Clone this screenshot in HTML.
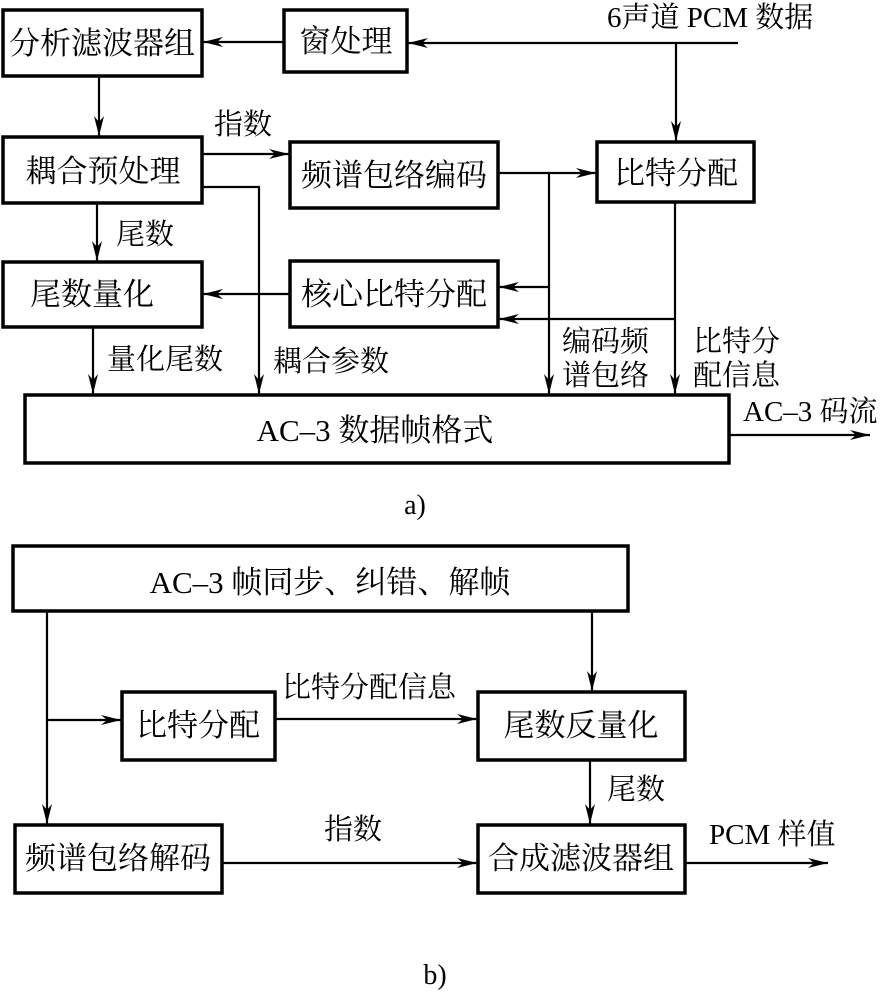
<!DOCTYPE html>
<html><head><meta charset="utf-8"><style>
html,body{margin:0;padding:0;background:#fff;}
svg{display:block;}
text{font-family:"Liberation Serif","Noto Serif CJK SC","Noto Sans CJK SC",serif;fill:#000;}
</style></head><body>
<svg width="887" height="996" viewBox="0 0 887 996" xmlns="http://www.w3.org/2000/svg">
<defs>
<marker id="a" viewBox="0 0 20 10" refX="20" refY="5" markerWidth="20" markerHeight="10" markerUnits="userSpaceOnUse" orient="auto">
<path d="M0,0 L20,5 L0,10 L6,5 Z" fill="#000"/>
</marker>
</defs>
<g fill="none" stroke="#000" stroke-width="3.5">
<rect x="3" y="10" width="199" height="66"/>
<rect x="284" y="10" width="123" height="62"/>
<rect x="597" y="142" width="157" height="60"/>
<rect x="3" y="137" width="199" height="66"/>
<rect x="290" y="142" width="208" height="66"/>
<rect x="3" y="262" width="199" height="65"/>
<rect x="290" y="261" width="208" height="66"/>
<rect x="25" y="395" width="704" height="68"/>
<rect x="13" y="546" width="615" height="65"/>
<rect x="122" y="692" width="153" height="68"/>
<rect x="478" y="692" width="207" height="68"/>
<rect x="15" y="825" width="207" height="68"/>
<rect x="478" y="825" width="207" height="68"/>
</g>
<g fill="none" stroke="#000" stroke-width="2.2">
<line x1="738" y1="43" x2="408" y2="43" marker-end="url(#a)"/>
<line x1="284" y1="42" x2="203" y2="42" marker-end="url(#a)"/>
<line x1="676" y1="43" x2="676" y2="141" marker-end="url(#a)"/>
<line x1="99" y1="76" x2="99" y2="136" marker-end="url(#a)"/>
<line x1="202" y1="154" x2="289" y2="154" marker-end="url(#a)"/>
<polyline points="202,187 259,187 259,394" marker-end="url(#a)"/>
<line x1="498" y1="173" x2="596" y2="173" marker-end="url(#a)"/>
<line x1="549" y1="173" x2="549" y2="394" marker-end="url(#a)"/>
<line x1="549" y1="287" x2="499" y2="287" marker-end="url(#a)"/>
<line x1="675" y1="202" x2="675" y2="394" marker-end="url(#a)"/>
<line x1="675" y1="319" x2="499" y2="319" marker-end="url(#a)"/>
<line x1="97" y1="203" x2="97" y2="261" marker-end="url(#a)"/>
<line x1="290" y1="294" x2="203" y2="294" marker-end="url(#a)"/>
<line x1="93" y1="327" x2="93" y2="394" marker-end="url(#a)"/>
<line x1="729" y1="435" x2="870" y2="435" marker-end="url(#a)"/>
<line x1="47" y1="611" x2="47" y2="824" marker-end="url(#a)"/>
<line x1="47" y1="720" x2="121" y2="720" marker-end="url(#a)"/>
<line x1="275" y1="719" x2="477" y2="719" marker-end="url(#a)"/>
<line x1="592" y1="611" x2="592" y2="691" marker-end="url(#a)"/>
<line x1="590" y1="760" x2="590" y2="824" marker-end="url(#a)"/>
<line x1="222" y1="863" x2="477" y2="863" marker-end="url(#a)"/>
<line x1="685" y1="863" x2="828" y2="863" marker-end="url(#a)"/>
</g>
<g font-size="31">
<text x="102" y="54" text-anchor="middle">分析滤波器组</text>
<text x="346" y="52" text-anchor="middle">窗处理</text>
<text x="607" y="27" font-size="29">6声道 PCM 数据</text>
<text x="103" y="182" text-anchor="middle">耦合预处理</text>
<text x="214" y="134" font-size="29">指数</text>
<text x="394" y="186" text-anchor="middle">频谱包络编码</text>
<text x="676" y="184" text-anchor="middle">比特分配</text>
<text x="116" y="244" font-size="29">尾数</text>
<text x="92" y="305" text-anchor="middle">尾数量化</text>
<text x="394" y="305" text-anchor="middle">核心比特分配</text>
<text x="107" y="369" font-size="29">量化尾数</text>
<text x="273" y="371" font-size="29">耦合参数</text>
<text x="562" y="351" font-size="29">编码频</text>
<text x="562" y="385" font-size="29">谱包络</text>
<text x="693" y="351" font-size="29">比特分</text>
<text x="693" y="385" font-size="29">配信息</text>
<text x="375" y="441" text-anchor="middle">AC–3 数据帧格式</text>
<text x="743" y="421" font-size="29">AC–3 码流</text>
<text x="415" y="514" text-anchor="middle" font-size="28">a)</text>
<text x="330" y="593" text-anchor="middle">AC–3 帧同步、纠错、解帧</text>
<text x="198" y="736" text-anchor="middle">比特分配</text>
<text x="282" y="697" font-size="29">比特分配信息</text>
<text x="581" y="736" text-anchor="middle">尾数反量化</text>
<text x="607" y="799" font-size="29">尾数</text>
<text x="118" y="869" text-anchor="middle">频谱包络解码</text>
<text x="324" y="839" font-size="29">指数</text>
<text x="581" y="869" text-anchor="middle">合成滤波器组</text>
<text x="709" y="844" font-size="29">PCM 样值</text>
<text x="435" y="984" text-anchor="middle" font-size="28">b)</text>
</g>
</svg>
</body></html>
